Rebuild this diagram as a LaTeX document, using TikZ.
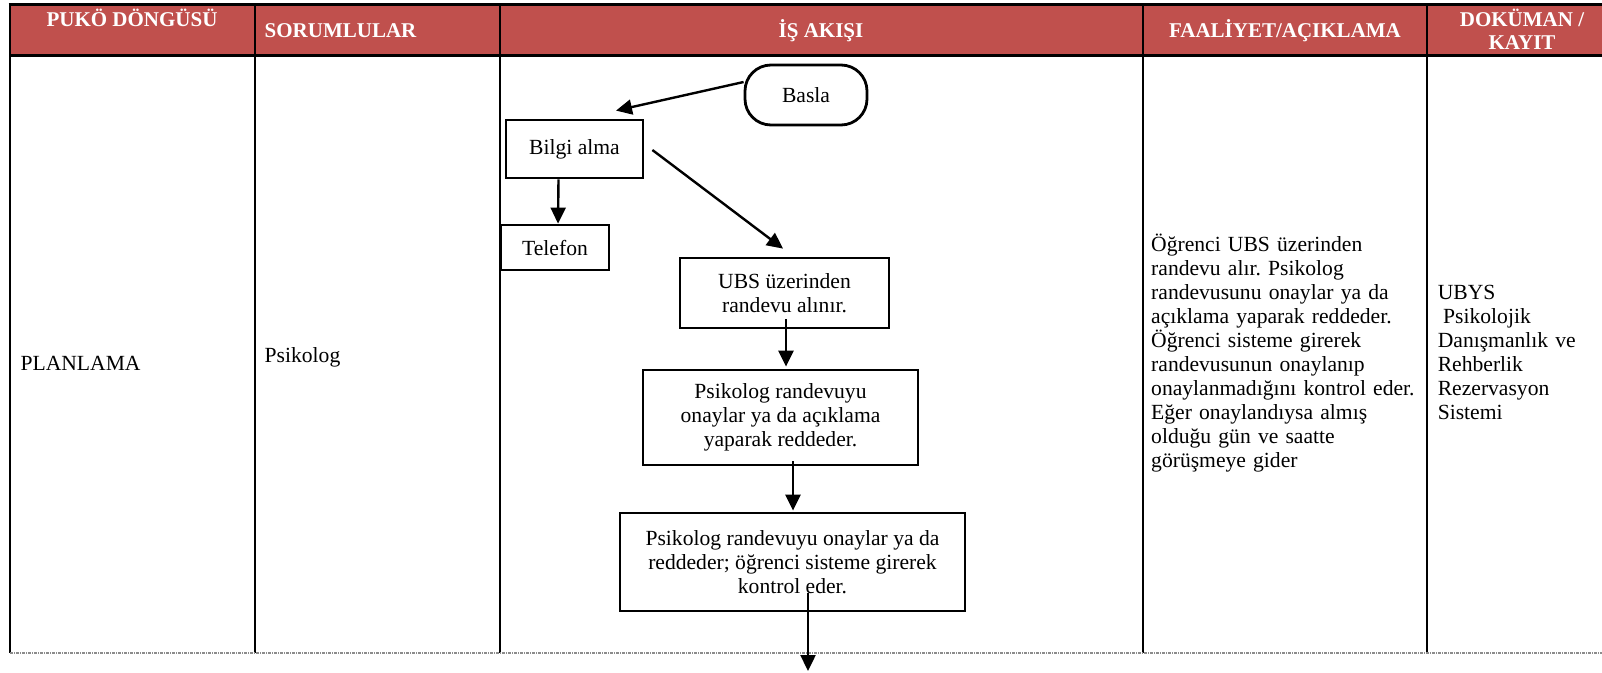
\documentclass[tikz,border=0pt]{standalone}
\usepackage{fontspec}
\setmainfont{Liberation Serif}
\usetikzlibrary{arrows.meta,calc}
\definecolor{hdr}{HTML}{C0504D}
\definecolor{dotgray}{HTML}{8C8C8C}
\frenchspacing
\begin{document}
\begin{tikzpicture}[x=1pt,y=-1pt,
  body/.style={font=\fontsize{21.6}{24.1}\selectfont, inner sep=0pt},
  hdrtext/.style={font=\fontsize{21}{22.5}\selectfont\bfseries, text=white, inner sep=0pt, align=center},
  flowbox/.style={draw, line width=2.8pt, inner sep=0pt, align=center, font=\fontsize{21.6}{24.1}\selectfont},
  arr/.style={line width=2.4pt, -{Triangle[length=16pt,width=15pt]}},
  hline/.style={line width=3pt},
  vline/.style={line width=2.4pt},
  dotline/.style={dotgray, line width=1.6pt, dash pattern=on 3pt off 1pt on 1pt off 1pt}]
\useasboundingbox (0,0) rectangle (1602,672);
% header band
\fill[hdr] (10,4) rectangle (1602,55);
\draw[hline] (8.5,4) -- (1602,4);
\draw[hline] (10,55) -- (1602,55);
\foreach \x in {10,255,500,1143,1427} \draw[vline] (\x,4) -- (\x,653);
\draw[dotline] (10,653) -- (1602,653);
% header texts
\node[hdrtext, anchor=base] (h1) at (132,26.6) {PUKÖ DÖNGÜSÜ};
\node[hdrtext, anchor=base west] (h2) at (264.5,37) {SORUMLULAR};
\node[hdrtext, anchor=base] (h3) at (821,37) {İŞ AKIŞI};
\node[hdrtext, anchor=base] (h4) at (1285,37) {FAALİYET/AÇIKLAMA};
\node[hdrtext, anchor=base] (h5) at (1522,26.6) {DOKÜMAN /};
\node[hdrtext, anchor=base] (h6) at (1522,49) {KAYIT};
% body texts
\node[body, anchor=base west] (plan) at (20.4,370) {PLANLAMA};
\node[body, anchor=base west] (psk) at (264.5,362) {Psikolog};
\node[body, anchor=base west, text width=280pt, align=left] (desc) at (1151,251)
 {Öğrenci UBS üzerinden\\randevu alır. Psikolog\\randevusunu onaylar ya da\\açıklama yaparak reddeder.\\Öğrenci sisteme girerek\\randevusunun onaylanıp\\onaylanmadığını kontrol eder.\\Eğer onaylandıysa almış\\olduğu gün ve saatte\\görüşmeye gider};
\node[body, anchor=base west, text width=170pt, align=left] (doc) at (1437.6,299)
 {UBYS\\\hspace*{5.4pt}Psikolojik\\Danışmanlık ve\\Rehberlik\\Rezervasyon\\Sistemi};
% flow boxes
\node[flowbox, rounded corners=26pt, minimum width=122pt, minimum height=60pt] (basla) at (806,95) {Basla};
\node[flowbox, minimum width=137pt, minimum height=58pt] (bilgi) at (574.5,149) {Bilgi alma};
\node[flowbox, minimum width=108pt, minimum height=45pt] (tel) at (555,247.5) {Telefon};
\node[flowbox, minimum width=209pt, minimum height=70pt] (ubs) at (784.5,293) {UBS üzerinden\\randevu alınır.};
\node[flowbox, minimum width=275pt, minimum height=95pt] (b3) at (780.5,417.5) {Psikolog randevuyu\\onaylar ya da açıklama\\yaparak reddeder.};
\node[flowbox, minimum width=345pt, minimum height=98pt] (b4) at (792.5,562) {Psikolog randevuyu onaylar ya da\\reddeder; öğrenci sisteme girerek\\kontrol eder.};
\coordinate (endpt) at (808,671);
% connectors
\draw[arr] ([yshift=13pt]basla.west) -- ([xshift=41.5pt,yshift=8pt]bilgi.north);
\draw[arr] ([xshift=-16pt]bilgi.south) -- ([xshift=3pt]tel.north);
\draw[arr] ([xshift=8pt,yshift=-1pt]bilgi.east) -- ([xshift=-1.5pt,yshift=8pt]ubs.north);
\draw[arr] ([xshift=1.5pt,yshift=10pt]ubs.south) -- ($(ubs.south |- b3.north)+(1.5pt,2pt)$);
\draw[arr] ([xshift=12.5pt,yshift=5pt]b3.south) -- ($(b3.south |- b4.north)+(12.5pt,1pt)$);
\draw[arr] ([xshift=15.5pt,yshift=19pt]b4.south) -- (endpt);
\end{tikzpicture}
\end{document}
